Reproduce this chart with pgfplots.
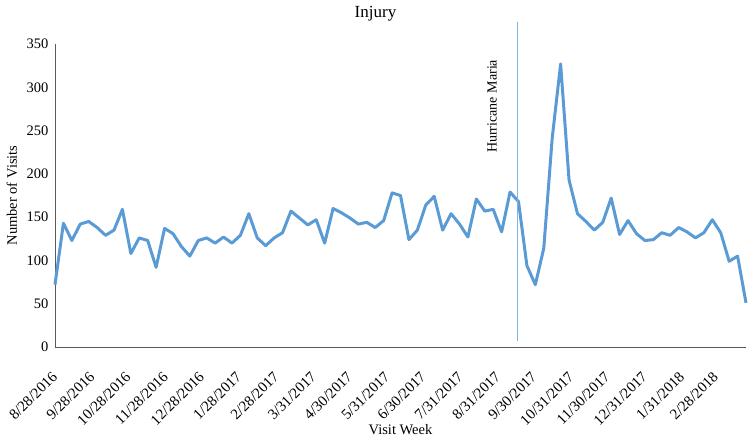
\documentclass[border=0pt]{standalone}
\usepackage{fontspec}
\setmainfont{Liberation Serif}
\usepackage{pgfplots}
\pgfplotsset{compat=1.18}
\definecolor{xlblue}{HTML}{5B9BD5}
\definecolor{marialine}{HTML}{7FB2E5}
\definecolor{axgray}{HTML}{595959}

\begin{document}
\begin{tikzpicture}
\begin{axis}[
    name=ax,
    scale only axis,
    width=691pt, height=303pt,
    xmin=0, xmax=574,
    ymin=0, ymax=350,
    ytick={0,50,...,350},
    xtick={0,31,61,92,122,153,184,215,245,276,306,337,368,398,429,459,490,521,549},
    xticklabels={8/28/2016,9/28/2016,10/28/2016,11/28/2016,12/28/2016,1/28/2017,2/28/2017,3/31/2017,4/30/2017,5/31/2017,6/30/2017,7/31/2017,8/31/2017,9/30/2017,10/31/2017,11/30/2017,12/31/2017,1/31/2018,2/28/2018},
    axis lines*=left,
    axis line style={-, draw=axgray, line width=0.9pt},
    major tick length=0pt,
    /pgf/number format/assume math mode=true,
    yticklabel style={font=\fontsize{14.5}{16}\selectfont, xshift=-3pt},
    xticklabel style={font=\fontsize{15}{17}\selectfont, xshift=-4pt, yshift=-23.5pt, rotate=45, anchor=north east, inner sep=0pt},
    clip=false,
]
\addplot[xlblue, line width=3pt, line join=round] table[x expr=7*\coordindex, y index=0] {
v
72
143
123
142
145
138
129
135
159
108
126
123
92
137
131
116
105
123
126
120
127
120
129
154
126
117
126
132
157
149
141
147
120
160
155
149
142
144
138
146
178
175
124
135
164
174
135
154
142
127
171
157
159
133
179
168
94
72
114
241
327
193
154
145
135
144
172
130
146
131
123
124
132
129
138
133
126
132
147
132
99
105
51
};
\draw[marialine, line width=1pt] (axis cs:384,7) -- (axis cs:384,375);
\node[rotate=90, font=\fontsize{14}{16}\selectfont] at (axis cs:363,278) {Hurricane Maria};
\end{axis}
\node[font=\fontsize{17}{20}\selectfont] at ([xshift=-25pt, yshift=30pt]ax.north) {Injury};
\node[rotate=90, font=\fontsize{14.5}{16}\selectfont] at ([xshift=-43pt]ax.west) {Number of Visits};
\node[font=\fontsize{14.5}{16}\selectfont] at ([yshift=-83pt]ax.south) {Visit Week};
\pgfresetboundingbox
\path[use as bounding box] ([shift={(-55pt,-96pt)}]ax.south west) rectangle ([shift={(4pt,44pt)}]ax.north east);
\end{tikzpicture}
\end{document}
